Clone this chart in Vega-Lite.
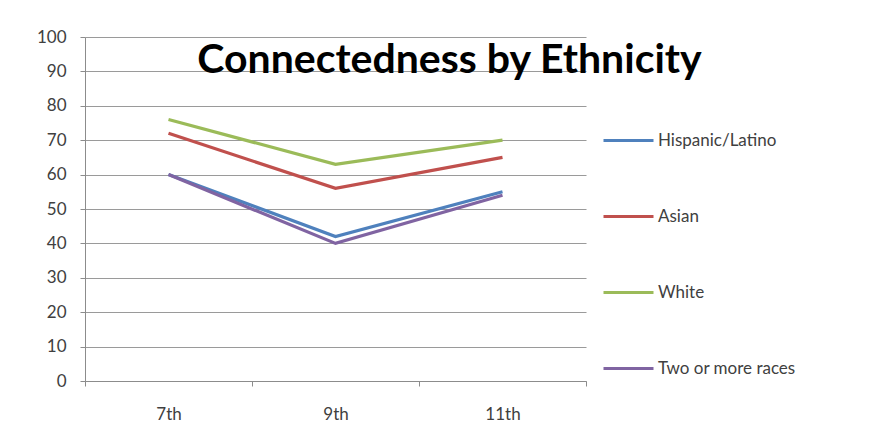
{
  "$schema": "https://vega.github.io/schema/vega-lite/v6.json",
  "autosize": "none",
  "padding": {"left": 85, "top": 37, "right": 298, "bottom": 59},
  "width": 501,
  "height": 344,
  "background": "white",
  "title": {
    "text": "Connectedness by Ethnicity",
    "font": "Lato",
    "fontSize": 41,
    "fontWeight": "bold",
    "color": "#000000",
    "anchor": "middle",
    "frame": "group",
    "dx": 114,
    "offset": -54
  },
  "data": {
    "values": [
      {"grade": "7th", "group": "Hispanic/Latino", "value": 60},
      {"grade": "9th", "group": "Hispanic/Latino", "value": 42},
      {"grade": "11th", "group": "Hispanic/Latino", "value": 55},
      {"grade": "7th", "group": "Asian", "value": 72},
      {"grade": "9th", "group": "Asian", "value": 56},
      {"grade": "11th", "group": "Asian", "value": 65},
      {"grade": "7th", "group": "White", "value": 76},
      {"grade": "9th", "group": "White", "value": 63},
      {"grade": "11th", "group": "White", "value": 70},
      {"grade": "7th", "group": "Two or more races", "value": 60},
      {"grade": "9th", "group": "Two or more races", "value": 40},
      {"grade": "11th", "group": "Two or more races", "value": 54}
    ]
  },
  "mark": {"type": "line", "strokeWidth": 3.2},
  "encoding": {
    "x": {
      "field": "grade",
      "type": "ordinal",
      "sort": ["7th", "9th", "11th"],
      "scale": {"type": "band", "paddingInner": 0, "paddingOuter": 0},
      "axis": {
        "title": null,
        "labelAngle": 0,
        "labelFont": "Lato",
        "labelFontSize": 17,
        "labelColor": "#404040",
        "labelPadding": 20,
        "bandPosition": 0,
        "tickBand": "extent",
        "tickSize": 5,
        "tickColor": "#8c8c8c",
        "domainColor": "#8c8c8c",
        "grid": false
      }
    },
    "y": {
      "field": "value",
      "type": "quantitative",
      "scale": {"domain": [0, 100], "nice": false},
      "axis": {
        "title": null,
        "values": [0, 10, 20, 30, 40, 50, 60, 70, 80, 90, 100],
        "labelFont": "Lato",
        "labelFontSize": 17,
        "labelColor": "#404040",
        "labelPadding": 14,
        "tickSize": 5,
        "tickColor": "#8c8c8c",
        "domainColor": "#8c8c8c",
        "gridColor": "#9a9a9a",
        "gridWidth": 1.2
      }
    },
    "color": {
      "field": "group",
      "type": "nominal",
      "scale": {
        "domain": ["Hispanic/Latino", "Asian", "White", "Two or more races"],
        "range": ["#4F81BD", "#C0504D", "#9BBB59", "#8064A2"]
      },
      "legend": {
        "title": null,
        "orient": "none",
        "legendX": 517,
        "legendY": 77,
        "symbolType": "stroke",
        "symbolSize": 2500,
        "symbolStrokeWidth": 3,
        "labelFont": "Lato",
        "labelFontSize": 17,
        "labelColor": "#404040",
        "labelOffset": 3,
        "rowPadding": 41
      }
    }
  },
  "config": {
    "view": {"stroke": null}
  }
}
